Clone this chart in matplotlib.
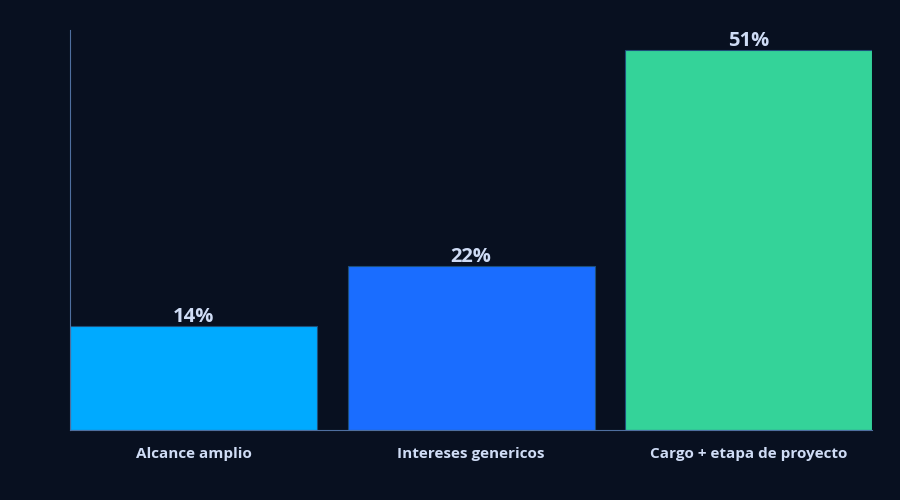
import matplotlib.pyplot as plt

# data
categories = ["Alcance amplio", "Intereses genericos", "Cargo + etapa de proyecto"]
values = [14, 22, 51]
colors = ["#00aaff", "#1a6dff", "#34d399"]

bg = "#081020"
text_color = "#cfdcf5"
plt.rcParams["font.family"] = ["Open Sans", "DejaVu Sans"]

fig = plt.figure(figsize=(9, 5), dpi=100, facecolor=bg)
ax = fig.add_axes([0.078, 0.14, 0.891, 0.80], facecolor=bg)

x = range(len(categories))
bars = ax.bar(x, values, width=0.89, color=colors, edgecolor="#1d4f7a", lw=0.8)

for b, v in zip(bars, values):
    ax.text(b.get_x() + b.get_width() / 2, v - 0.15, f"{v}%", ha="center", va="bottom",
            color=text_color, fontsize=14.5, fontweight="bold")

ax.set_xlim(-0.445, 2.445)
ax.set_ylim(0, 53.7)
ax.set_xticks(list(x))
ax.set_xticklabels(categories, color=text_color, fontsize=11, fontweight="bold")
ax.tick_params(axis="x", length=0, pad=12)
ax.set_yticks([])
for side in ["top", "right"]:
    ax.spines[side].set_visible(False)
ax.spines["left"].set_color("#4f6f9f")
ax.spines["bottom"].set_color("#4f6f9f")
ax.spines["left"].set_linewidth(0.8)
ax.spines["bottom"].set_linewidth(0.8)

plt.savefig("out.png", facecolor=bg)
